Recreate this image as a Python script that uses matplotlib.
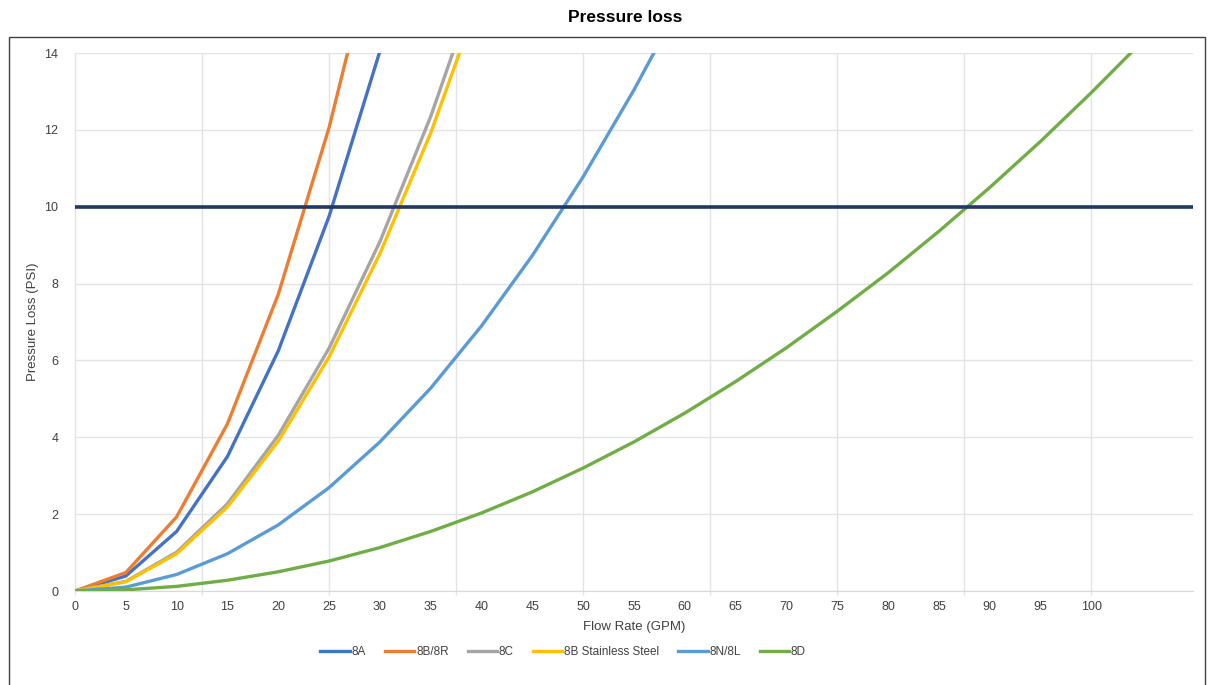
import numpy as np
import matplotlib
matplotlib.use("Agg")
import matplotlib.pyplot as plt
from matplotlib.patches import Rectangle

plt.rcParams['font.family'] = ['Liberation Sans', 'DejaVu Sans']

# flow rate (GPM) and pressure loss (PSI)
flow = [0, 5, 10, 15, 20, 25, 30, 35, 40, 45, 50, 55, 60, 65, 70, 75,
        80, 85, 90, 95, 100, 105]
loss_8a = [0, 0.39, 1.55, 3.5, 6.25, 9.75, 14.05]
loss_8b8r = [0, 0.48, 1.93, 4.35, 7.72, 12.06, 17.4]
loss_8c = [0, 0.25, 1.01, 2.27, 4.05, 6.32, 9.09, 12.35, 16.15]
loss_8bss = [0, 0.24, 0.97, 2.19, 3.9, 6.09, 8.78, 11.92, 15.6]
loss_8n8l = [0, 0.1, 0.43, 0.97, 1.72, 2.69, 3.88, 5.28, 6.9, 8.73,
             10.78, 13.04, 15.5]
loss_8d = [0, 0.03, 0.12, 0.28, 0.5, 0.78, 1.13, 1.55, 2.03, 2.58, 3.2,
           3.88, 4.63, 5.45, 6.33, 7.28, 8.28, 9.36, 10.5, 11.7, 12.97, 14.3]
limit_psi = 10
tick_labels = [str(v) for v in range(0, 101, 5)]

series = [
    ("8A", loss_8a, "#4472C4"),
    ("8B/8R", loss_8b8r, "#ED7D31"),
    ("8C", loss_8c, "#A5A5A5"),
    ("8B Stainless Steel", loss_8bss, "#FFC000"),
    ("8N/8L", loss_8n8l, "#5B9BD5"),
    ("8D", loss_8d, "#70AD47"),
]

fig = plt.figure(figsize=(12.1, 6.85), dpi=100)
ax = fig.add_axes([75/1210, 1 - 591/685, (1193-75)/1210, (591-53)/685])

# chart border
fig.patches.append(Rectangle((9/1210, -0.05), (1205-9)/1210, 1 - 37/685 + 0.05,
                             transform=fig.transFigure, fill=False,
                             edgecolor="#404040", linewidth=1.0))

for name, vals, col in series:
    ax.plot(flow[:len(vals)], vals, color=col, lw=2.4, label=name,
            solid_joinstyle="round", zorder=3)

ax.axhline(limit_psi, color="#203864", lw=2.6, zorder=4)

ax.set_xlim(0, 110)
ax.set_ylim(0, 14)

# vertical gridlines every 12.5, poking a little below the axis like tick marks
ax.vlines(np.arange(0, 100.1, 12.5), -0.11, 14, color="#E3E3E3", lw=1.0,
          zorder=0, clip_on=False)

ax.set_xticks(np.arange(0, 101, 5))
ax.set_xticklabels(tick_labels)
ax.tick_params(axis="x", length=0, pad=7, labelsize=9, labelcolor="#404040")
ax.set_yticks(np.arange(0, 15, 2))
ax.tick_params(axis="y", length=0, pad=12, labelsize=9, labelcolor="#404040")

ax.grid(True, axis="y", color="#E3E3E3", lw=1.0, zorder=0)
for s in ["top", "right", "left"]:
    ax.spines[s].set_visible(False)
ax.spines["bottom"].set_color("#D9D9D9")

ax.set_xlabel("Flow Rate (GPM)", fontsize=9.5, color="#404040", labelpad=6)
ax.set_ylabel("Pressure Loss (PSI)", fontsize=9.5, color="#404040", labelpad=4)

fig.text(625/1210, 1 - 18/685, "Pressure loss", ha="center", va="center",
         fontsize=12.5, fontweight="bold", color="#000000")

fig.legend(loc="center", bbox_to_anchor=(563/1210, 1 - 652/685), ncol=6,
           frameon=False, fontsize=8.5, handlelength=2.5, handletextpad=0.15,
           columnspacing=1.6, labelcolor="#404040")

fig.savefig("out.png", dpi=100)
